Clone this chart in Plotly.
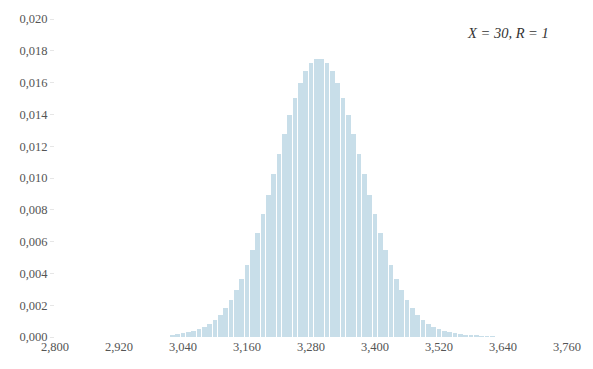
import plotly.graph_objects as go

# Bin centres and probabilities of the simulated sum
bin_centers = [3020, 3030, 3040, 3050, 3060, 3070, 3080, 3090, 3100, 3110,
               3120, 3130, 3140, 3150, 3160, 3170, 3180, 3190, 3200, 3210,
               3220, 3230, 3240, 3250, 3260, 3270, 3280, 3290, 3300, 3310,
               3320, 3330, 3340, 3350, 3360, 3370, 3380, 3390, 3400, 3410,
               3420, 3430, 3440, 3450, 3460, 3470, 3480, 3490, 3500, 3510,
               3520, 3530, 3540, 3550, 3560, 3570, 3580, 3590, 3600, 3610,
               3620]
probabilities = [0.00012, 0.00017, 0.00023, 0.00030, 0.00038, 0.00050, 0.00065,
                 0.00084, 0.00110, 0.00140, 0.00181, 0.00232, 0.00293, 0.00367,
                 0.00451, 0.00548, 0.00655, 0.00771, 0.00894, 0.01023, 0.01152,
                 0.01278, 0.01398, 0.01505, 0.01598, 0.01671, 0.01721, 0.01747,
                 0.01747, 0.01721, 0.01671, 0.01598, 0.01505, 0.01398, 0.01278,
                 0.01152, 0.01023, 0.00894, 0.00771, 0.00655, 0.00548, 0.00451,
                 0.00367, 0.00293, 0.00232, 0.00181, 0.00140, 0.00110, 0.00084,
                 0.00065, 0.00050, 0.00038, 0.00030, 0.00023, 0.00017, 0.00012,
                 0.00009, 0.00007, 0.00005, 0.00003, 0.00002]

x_tick_vals = [2800, 2920, 3040, 3160, 3280, 3400, 3520, 3640, 3760]
x_tick_text = ["2,800", "2,920", "3,040", "3,160", "3,280", "3,400", "3,520", "3,640", "3,760"]
y_tick_vals = [0.000, 0.002, 0.004, 0.006, 0.008, 0.010, 0.012, 0.014, 0.016, 0.018, 0.020]
y_tick_text = ["0,000", "0,002", "0,004", "0,006", "0,008", "0,010",
               "0,012", "0,014", "0,016", "0,018", "0,020"]

annotation_text = "X = 30, R = 1"

fig = go.Figure(
    go.Bar(
        x=bin_centers,
        y=probabilities,
        width=9.0,
        marker=dict(color="#c8dee9", line=dict(width=0)),
        hoverinfo="skip",
    )
)

serif = "Liberation Serif, Times New Roman, serif"
axis_font = dict(family=serif, size=12.5, color="#555555")

fig.update_layout(
    width=593,
    height=369,
    margin=dict(l=55, r=21, t=17, b=32),
    paper_bgcolor="white",
    plot_bgcolor="white",
    showlegend=False,
    bargap=0,
    xaxis=dict(
        range=[2800, 3760],
        tickvals=x_tick_vals,
        ticktext=x_tick_text,
        showgrid=False,
        zeroline=False,
        showline=False,
        ticks="",
        tickfont=axis_font,
    ),
    yaxis=dict(
        range=[0, 0.020],
        tickvals=y_tick_vals,
        ticktext=y_tick_text,
        showgrid=False,
        zeroline=False,
        showline=False,
        ticks="outside",
        ticklen=4,
        tickcolor="#e6e6e6",
        tickfont=axis_font,
    ),
    annotations=[
        dict(
            text="<i>" + annotation_text + "</i>",
            xref="paper", yref="paper",
            x=0.968, y=0.955,
            xanchor="right", yanchor="middle",
            showarrow=False,
            font=dict(family=serif, size=14.5, color="#333333"),
        )
    ],
)

fig.write_html("out.html")
